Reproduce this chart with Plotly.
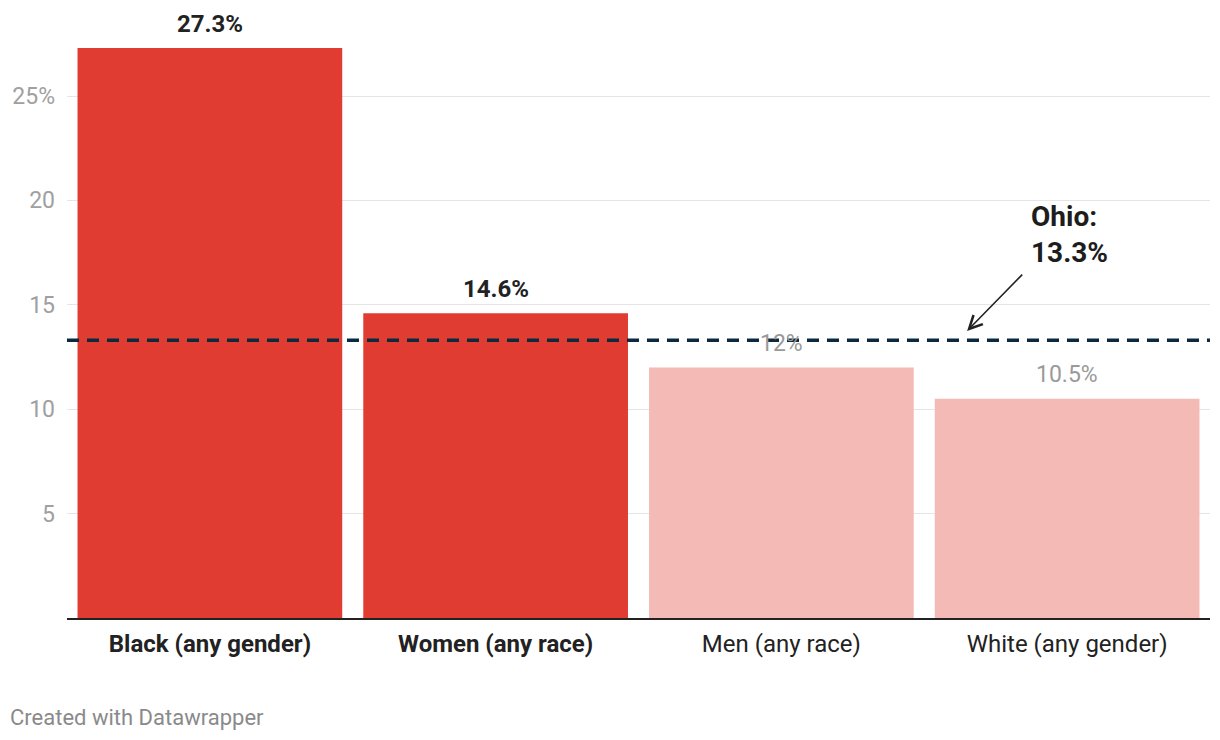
import plotly.graph_objects as go

categories = ["Black (any gender)", "Women (any race)", "Men (any race)", "White (any gender)"]
values = [27.3, 14.6, 12.0, 10.5]
highlighted = ["Black (any gender)", "Women (any race)"]
ohio_value = 13.3
tick_vals = [5, 10, 15, 20, 25]
tick_text = ["5", "10", "15", "20", "25%"]

FONT = "Roboto"
dark_red = "#e03c31"
light_red = "#f4bab6"

colors = [dark_red if c in highlighted else light_red for c in categories]
xlabels = [f"<b>{c}</b>" if c in highlighted else c for c in categories]

fig = go.Figure()
fig.add_trace(go.Bar(x=categories, y=values, marker=dict(color=colors, line=dict(width=0)),
                     hoverinfo="skip"))

annotations = []
for c, v in zip(categories, values):
    hl = c in highlighted
    annotations.append(dict(
        x=c, y=v, xref="x", yref="y", text=(f"<b>{v:g}%</b>" if hl else f"{v:g}%"),
        showarrow=False, yanchor="middle", yshift=24,
        font=dict(family=FONT, size=24 if hl else 23, color="#222222" if hl else "#9a9a9a")))

# Ohio label and arrow
annotations.append(dict(x=2.865, y=18.39, xref="x", yref="y", text="<b>Ohio:<br>13.3%</b>",
                        showarrow=False, xanchor="left", yanchor="middle", align="left",
                        font=dict(family=FONT, size=28, color="#1d1d1d")))
annotations.append(dict(x=2.65, y=13.75, xref="x", yref="y", ax=2.848, ay=16.52,
                        axref="x", ayref="y", text="", showarrow=True, arrowhead=5,
                        arrowsize=1.6, arrowwidth=1.6, arrowcolor="#222222"))
annotations.append(dict(x=-0.0516, y=-0.1737, xref="paper", yref="paper",
                        text="Created with Datawrapper", showarrow=False,
                        xanchor="left", yanchor="middle",
                        font=dict(family=FONT, size=22, color="#8a8a8a")))

fig.add_shape(type="line", xref="paper", yref="y", x0=0, x1=1, y0=ohio_value, y1=ohio_value,
              line=dict(color="#0b2a3f", width=3.5, dash="12px,8px"))

fig.update_layout(
    width=1212, height=732,
    margin=dict(l=59, r=10, t=40, b=122),
    plot_bgcolor="white", paper_bgcolor="white",
    bargap=0.0736,
    showlegend=False,
    annotations=annotations,
    font=dict(family=FONT),
)
fig.update_xaxes(tickvals=categories, ticktext=xlabels, showline=True, linecolor="#222222",
                 linewidth=2, ticks="", tickfont=dict(family=FONT, size=24, color="#222222"),
                 ticklabelstandoff=3, showgrid=False, fixedrange=True, automargin=False)
fig.update_yaxes(range=[0, 27.3], tickvals=tick_vals, ticktext=tick_text, showgrid=True,
                 gridcolor="#e5e5e5", gridwidth=1, zeroline=False, ticks="",
                 tickfont=dict(family=FONT, size=23, color="#a0a0a0"),
                 ticklabelstandoff=11, fixedrange=True, automargin=False)

fig.write_html("out.html")
